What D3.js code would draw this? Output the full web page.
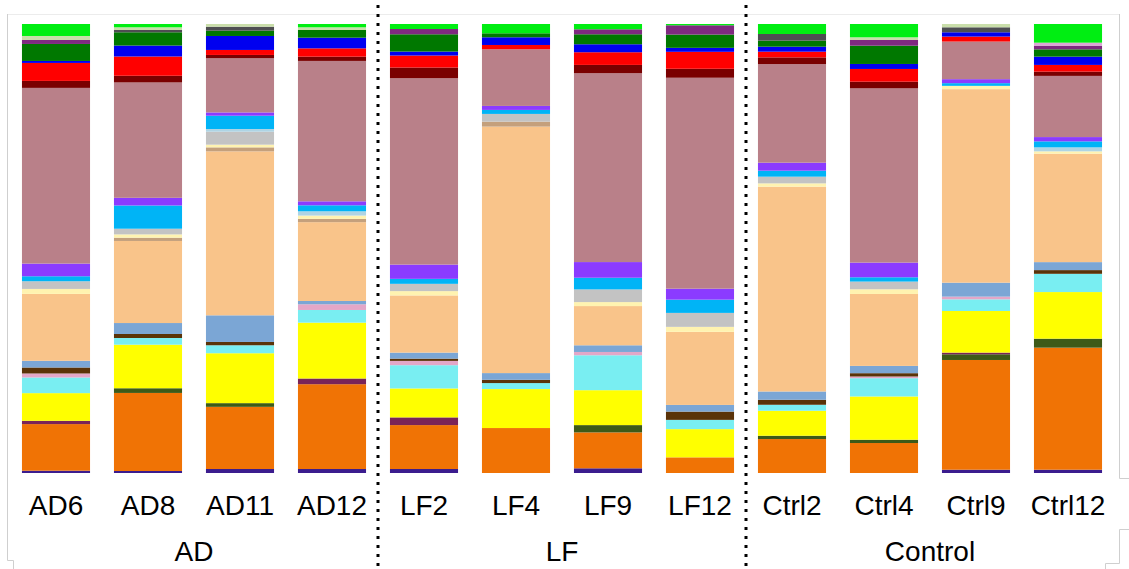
<!DOCTYPE html>
<html>
<head>
<meta charset="utf-8">
<script src="https://cdn.jsdelivr.net/npm/d3@7"></script>
<style>
  body { margin: 0; background: #fff; }
  svg { display: block; }
  text { font-family: "Liberation Sans", Arial, sans-serif; font-size: 28px; fill: #000; }
</style>
</head>
<body>
<svg></svg>
<script>
// samples and groups
const samples = ["AD6","AD8","AD11","AD12","LF2","LF4","LF9","LF12","Ctrl2","Ctrl4","Ctrl9","Ctrl12"];
const groups = ["AD","LF","Control"];
const sampleGroup = ["AD","AD","AD","AD","LF","LF","LF","LF","Control","Control","Control","Control"];

// taxa, bottom of the stack first
const taxa = ["t01","t02","t03","t04","t05","t06","t07","t08","t09","t10","t11","t12","t13",
              "t14","t15","t16","t17","t18","t19","t20","t21","t22","t23","t24","t25","t26"];
const taxaColors = ["#3b1c8e","#f07305","#3d5a18","#7a2458","#ffff00","#79eef2","#e3a7c8","#5a3308",
                    "#7ba6d5","#f9c48a","#c4a07c","#fff3b0","#c3c3c3","#aed4e4","#00b4f6","#8b3bff",
                    "#b98089","#7a0000","#ff0000","#0000f0","#007800","#4e4e52","#7f2a80","#dca6d6",
                    "#c9deaa","#00ee12"];

// relative abundance per taxon, one value per sample (normalised per bar)
const t01 = [2.3, 2, 4, 4, 4, 0, 4.7, 0, 0, 0, 3.3, 3.3];
const t02 = [46.7, 78.3, 62.3, 85, 44, 45, 36, 15.7, 34, 30, 110, 122.3];
const t03 = [0, 4.7, 3.7, 0, 0, 0, 7.3, 0, 3.3, 3.3, 5.7, 9];
const t04 = [3.3, 0, 0, 5.7, 7.7, 0, 0, 0, 0, 0, 1.7, 0];
const t05 = [27.7, 43.7, 50, 56, 29, 39, 35, 28.3, 25, 43.3, 41.7, 46.7];
const t06 = [15.7, 6.7, 8, 12.7, 23.3, 6, 35, 9.3, 6, 18.3, 11.7, 18.3];
const t07 = [4, 0, 0, 5.7, 4.3, 0, 3.3, 0, 0, 1.7, 2.7, 0];
const t08 = [6, 4, 3.3, 0, 2.3, 3.3, 0, 8.3, 5, 3.3, 0, 3.7];
const t09 = [6.7, 11, 26.7, 3.3, 6, 6.7, 6.7, 6.7, 8.3, 7.3, 14, 8];
const t10 = [67, 82.3, 164.3, 79, 57.3, 246.7, 39.3, 73.3, 205, 72, 194, 108.7];
const t11 = [0, 3.3, 4, 3.3, 0, 5, 0, 0, 0, 0, 0, 0];
const t12 = [5, 3.3, 2.7, 3.3, 4.3, 0, 4, 5, 3.3, 4.7, 3.3, 2.3];
const t13 = [7.7, 5.7, 13, 0, 7.3, 7.7, 12.7, 14, 6.7, 7.7, 0, 0];
const t14 = [0, 0, 2.7, 4.3, 0, 0, 0, 0, 0, 0, 0, 4];
const t15 = [5, 23.3, 13.3, 6, 5, 4, 11.7, 13.3, 6, 4.3, 2.7, 6];
const t16 = [12.7, 7.7, 3.3, 4, 14.3, 4, 15.7, 11, 8, 14.7, 4, 4.3];
const t17 = [176, 115.7, 54.3, 140.7, 186.7, 56.7, 189.3, 211.6, 98.7, 174.4, 37.7, 61.3];
const t18 = [7, 6.7, 3.3, 4.3, 10.7, 0, 8.3, 9, 6.7, 6.7, 0, 4.3];
const t19 = [18, 19.3, 5, 8.3, 12, 4.3, 12.7, 17, 5.7, 12.7, 5, 6.7];
const t20 = [2, 11, 14, 10.7, 4, 7.7, 8, 4, 5, 5, 4.3, 8.3];
const t21 = [17, 13.3, 5.3, 7.7, 17.3, 4, 10, 13.3, 6, 18.3, 0, 7.3];
const t22 = [0, 2.3, 4, 0, 0, 0, 0, 0, 6.7, 0, 5, 0];
const t23 = [4, 0, 0, 0, 5.3, 0, 5, 9.3, 0, 5.7, 0, 3.7];
const t24 = [0, 0, 0, 0, 0, 0, 0, 0, 0, 0, 0, 3];
const t25 = [4, 2.7, 2.7, 2.7, 0, 0, 0, 0, 0, 2.7, 3.3, 0];
const t26 = [12, 3.3, 0, 3.3, 5, 9.3, 5.3, 1.3, 10, 13.3, 0, 18.7];

const taxaValues = [t01,t02,t03,t04,t05,t06,t07,t08,t09,t10,t11,t12,t13,
                    t14,t15,t16,t17,t18,t19,t20,t21,t22,t23,t24,t25,t26];

// svg dimensions
const w = 1129;
const h = 569;
const barTop = 24;
const barBottom = 473;

let svg = d3.select("svg").attr("width", w).attr("height", h);

// one row per sample for d3.stack
let rows = samples.map((s, i) => {
  let row = { sample: s };
  taxa.forEach((t, j) => { row[t] = taxaValues[j][i]; });
  return row;
});

let stacked = d3.stack()
  .keys(taxa)
  .offset(d3.stackOffsetExpand)(rows);

let xScale = d3.scaleBand()
  .domain(samples)
  .range([10, 1114])
  .paddingInner(0.26)
  .paddingOuter(0.13);

let yScale = d3.scaleLinear()
  .domain([0, 1])
  .range([barBottom, barTop]);

let color = d3.scaleOrdinal().domain(taxa).range(taxaColors);

// light frame round the plot
let frame = svg.append("g").attr("fill", "none").attr("stroke", "#cfcfcf").attr("stroke-width", 1);
frame.append("path").attr("stroke", "#ececec").attr("d", "M7,14.5H1119");
frame.append("path").attr("d", "M7.5,14V560.5H13.5V569");
frame.append("path").attr("d", "M1119.5,14V478.5H1129");
frame.append("path").attr("d", "M1129,529.5H1119.5V563.5H1105.5V569");

// stacked bars
svg.append("g")
  .selectAll("g")
  .data(stacked)
  .enter()
  .append("g")
  .attr("fill", d => color(d.key))
  .selectAll("rect")
  .data(d => d)
  .enter()
  .append("rect")
  .attr("x", d => xScale(d.data.sample))
  .attr("width", xScale.bandwidth())
  .attr("y", d => yScale(d[1]))
  .attr("height", d => Math.max(0, yScale(d[0]) - yScale(d[1])));

// sample labels
svg.append("g")
  .selectAll("text")
  .data(samples)
  .enter()
  .append("text")
  .attr("x", d => xScale(d) + xScale.bandwidth() / 2)
  .attr("y", 515)
  .attr("text-anchor", "middle")
  .text(d => d);

// group labels, centred under their bars
svg.append("g")
  .selectAll("text")
  .data(groups)
  .enter()
  .append("text")
  .attr("x", g => {
    let members = samples.filter((s, i) => sampleGroup[i] === g);
    return d3.mean(members, s => xScale(s) + xScale.bandwidth() / 2);
  })
  .attr("y", 561)
  .attr("text-anchor", "middle")
  .text(d => d);

// dotted dividers between the groups
let dividers = [];
for (let i = 1; i < samples.length; i++) {
  if (sampleGroup[i] !== sampleGroup[i - 1]) {
    dividers.push((xScale(samples[i - 1]) + xScale.bandwidth() + xScale(samples[i])) / 2);
  }
}
svg.append("g")
  .selectAll("line")
  .data(dividers)
  .enter()
  .append("line")
  .attr("x1", d => d)
  .attr("x2", d => d)
  .attr("y1", 5)
  .attr("y2", h)
  .attr("stroke", "#000")
  .attr("stroke-width", 3)
  .attr("stroke-dasharray", "3,6");
</script>
</body>
</html>
